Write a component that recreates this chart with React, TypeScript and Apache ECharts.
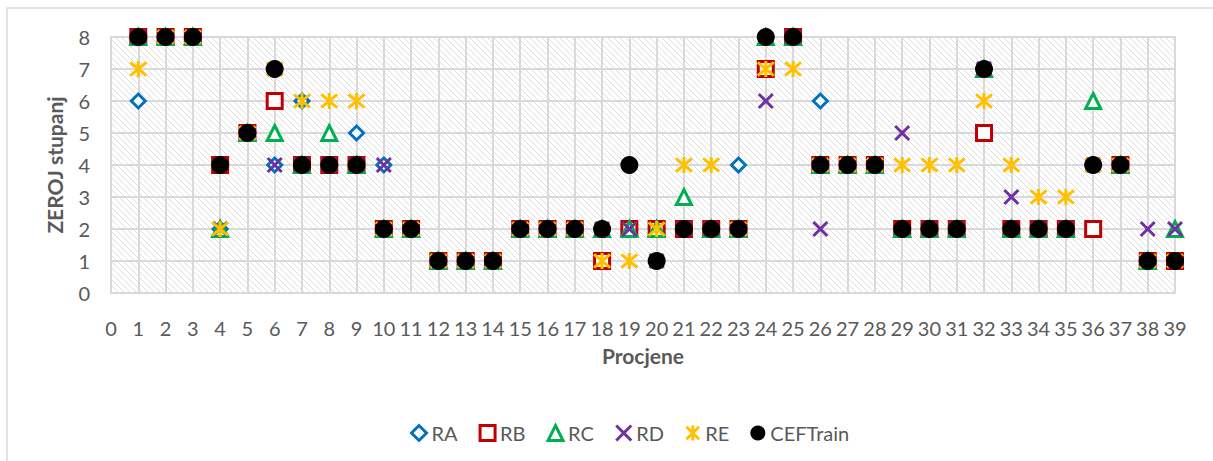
import React, { useEffect, useRef } from "react";
import * as echarts from "echarts";

const xs = [1,2,3,4,5,6,7,8,9,10,11,12,13,14,15,16,17,18,19,20,21,22,23,24,25,26,27,28,29,30,31,32,33,34,35,36,37,38,39];
const RA = [6,8,8,2,5,4,6,4,5,4,2,1,1,1,2,2,2,2,2,2,2,2,4,8,8,6,4,4,2,2,2,7,2,2,2,4,4,1,1];
const RB = [8,8,8,4,5,6,4,4,4,2,2,1,1,1,2,2,2,1,2,2,2,2,2,7,8,4,4,4,2,2,2,5,2,2,2,2,4,1,1];
const RC = [8,8,8,2,5,5,4,5,4,2,2,1,1,1,2,2,2,2,2,2,3,2,2,8,8,4,4,4,2,2,2,7,2,2,2,6,4,1,2];
const RD = [8,8,8,2,5,4,4,4,4,4,2,1,1,1,2,2,2,2,2,1,2,2,2,6,8,2,4,4,5,2,2,7,3,2,2,4,4,2,2];
const RE = [7,8,8,2,5,7,6,6,6,2,2,1,1,1,2,2,2,1,1,2,4,4,2,7,7,4,4,4,4,4,4,6,4,3,3,4,4,1,1];
const CEF = [8,8,8,4,5,7,4,4,4,2,2,1,1,1,2,2,2,2,4,1,2,2,2,8,8,4,4,4,2,2,2,7,2,2,2,4,4,1,1];

const seriesNames = ["RA", "RB", "RC", "RD", "RE", "CEFTrain"];
const seriesValues = [RA, RB, RC, RD, RE, CEF];
const seriesColors = ["#0070C0", "#C00000", "#00B050", "#7030A0", "#FFC000", "#000000"];

const FONT = "Lato, 'Noto Sans', sans-serif";

function makeHatch(): HTMLCanvasElement {
  const c = document.createElement("canvas");
  const p = 6;
  c.width = p;
  c.height = p;
  const ctx = c.getContext("2d")!;
  ctx.fillStyle = "#ffffff";
  ctx.fillRect(0, 0, p, p);
  ctx.strokeStyle = "#dedede";
  ctx.lineWidth = 1;
  ctx.beginPath();
  for (let k = -1; k <= 1; k++) {
    ctx.moveTo(k * p - 1, -1);
    ctx.lineTo(k * p + p + 1, p + 1);
  }
  ctx.stroke();
  return c;
}

export default function App() {
  const ref = useRef<HTMLDivElement>(null);
  useEffect(() => {
    document.body.style.margin = "0";
    const chart = echarts.init(ref.current!, null, { renderer: "svg" });
    const hatch = makeHatch();
    const symbols: any[] = [
      { symbol: "diamond", symbolSize: 14, hollow: true },
      { symbol: "rect", symbolSize: 15, hollow: true },
      { symbol: "triangle", symbolSize: 15, hollow: true },
      { symbol: "path://M0,0L10,10M10,0L0,10", symbolSize: 14, hollow: false },
      { symbol: "path://M0,1L10,11M10,1L0,11M5,0L5,12", symbolSize: 16, hollow: false },
      { symbol: "circle", symbolSize: 18, hollow: false },
    ];
    const series = seriesNames.map((name, i) => ({
      name,
      type: "scatter",
      clip: false,
      data: xs.map((x, j) => [x, seriesValues[i][j]]),
      symbol: symbols[i].symbol,
      symbolSize: symbols[i].symbolSize,
      itemStyle:
        i === 5
          ? { color: seriesColors[i], opacity: 1 }
          : symbols[i].hollow
          ? { color: "#ffffff", borderColor: seriesColors[i], borderWidth: 3, opacity: 1 }
          : { color: seriesColors[i], borderColor: seriesColors[i], borderWidth: 3, opacity: 1 },
      emphasis: { disabled: true },
      z: 2 + i,
    }));
    chart.setOption({
      animation: false,
      textStyle: { fontFamily: FONT },
      graphic: [
        {
          type: "rect",
          shape: { x: 7, y: 8, width: 1400, height: 700 },
          style: { fill: "none", stroke: "#d9d9d9", lineWidth: 1.5 },
          silent: true,
        },
      ],
      grid: {
        left: 111,
        top: 37,
        width: 1064,
        height: 256,
        show: true,
        backgroundColor: {
          image: hatch,
          repeat: "repeat",
          imageWidth: 6,
          imageHeight: 6,
        } as any,
        borderColor: "#d9d9d9",
        borderWidth: 2,
      },
      xAxis: {
        type: "value",
        min: 0,
        max: 39,
        interval: 1,
        name: "Procjene",
        nameLocation: "middle",
        nameGap: 52,
        nameTextStyle: { fontFamily: FONT, fontSize: 21, fontWeight: "bold", color: "#595959" },
        axisLine: { show: false },
        axisTick: { show: false },
        axisLabel: { fontFamily: FONT, fontSize: 20, color: "#595959", margin: 25 },
        splitLine: { show: true, lineStyle: { color: "#d9d9d9", width: 2 } },
      },
      yAxis: {
        type: "value",
        min: 0,
        max: 8,
        interval: 1,
        name: "ZEROJ stupanj",
        nameLocation: "middle",
        nameGap: 46,
        nameTextStyle: { fontFamily: FONT, fontSize: 21, fontWeight: "bold", color: "#595959" },
        axisLine: { show: false },
        axisTick: { show: false },
        axisLabel: { fontFamily: FONT, fontSize: 20, color: "#595959", margin: 21 },
        splitLine: { show: true, lineStyle: { color: "#d9d9d9", width: 2 } },
      },
      legend: {
        left: 405,
        top: 418,
        itemWidth: 15,
        itemHeight: 15,
        itemGap: 21,
        textStyle: { fontFamily: FONT, fontSize: 20, color: "#595959" },
        itemStyle: { borderWidth: 3 },
        data: seriesNames,
      },
      series,
    });
    return () => chart.dispose();
  }, []);
  return (
    <div
      ref={ref}
      style={{ position: "absolute", left: 0, top: 0, width: 1213, height: 461, background: "#fff" }}
    />
  );
}
